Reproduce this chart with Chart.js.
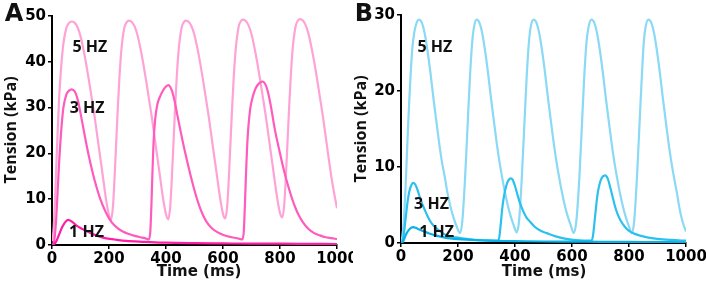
<!DOCTYPE html>
<html><head><meta charset="utf-8">
<script src="https://cdn.jsdelivr.net/npm/chart.js@4/dist/chart.umd.min.js"></script>
<style>
html,body{margin:0;padding:0;background:#fff;width:706px;height:289px;overflow:hidden}
.box{position:absolute;top:0;width:353px;height:289px}
canvas{display:block}
</style></head><body>
<div class="box" style="left:0"><canvas id="cA" width="353" height="289"></canvas></div>
<div class="box" style="left:353px"><canvas id="cB" width="353" height="289"></canvas></div>
<script>
// ---------- Panel A (pink) ----------
const timeA5 = [0,5,10,15,20,25,30,35,40,50,60,70,80,90,100,110,120,130,140,150,160,170,180,190,200,207,
214,219,225,231,237,244,254,262,270,280,290,300,310,320,330,340,350,360,370,380,390,400,408,
415,420,426,432,438,445,455,462,470,480,490,500,510,520,530,540,550,560,570,580,590,600,608,
615,620,626,632,638,645,655,662,670,680,690,700,710,720,730,740,750,760,770,780,790,800,808,
815,820,826,832,838,845,855,862,870,880,890,900,910,920,930,940,950,960,970,980,990,1000];
const tensionA5 = [0.8,3,9,17,25,32,37,41,44,47.3,48.5,48.8,48.5,47.5,45.6,42.8,39.5,35.8,31.8,27.8,23.3,18.8,14.3,9.8,6.5,5.5,
8.5,14,22,30,37,43,47.5,48.6,49.0,48.7,47.7,45.8,43,39.7,36,32,28,23.5,19,14.5,10,6.7,5.6,
8.5,14,22,30,37,43,47.5,48.6,49.0,48.7,47.7,45.8,43,39.7,36,32,28,23.5,19,14.6,10.2,6.8,5.8,
8.7,14,22,30,37,43,47.7,48.8,49.2,48.9,47.9,46,43.2,39.9,36.2,32.2,28.2,23.7,19.2,14.7,10.3,7,6.0,
8.9,14.2,22,30,37,43.2,47.8,48.9,49.3,49,48,46.1,43.3,40,36.3,32.3,28.3,23.8,19.3,15,11.3,8];

const timeA3 = [0,5,10,15,20,25,30,35,40,50,60,69,80,90,100,110,120,130,140,151,168,190,209,230,250,270,290,310,326,340,
345,349,352,356,362,370,379,390,400,408,420,430,440,450,460,472,485,497,508,520,530,543,560,580,601,630,655,668,
673,677,681,686,695,705,715,727,738,750,760,770,782,795,805,817,830,842,853,865,880,900,920,940,960,980,1000];
const tensionA3 = [0,0.3,2,6,12,18,23,27,30,32.8,33.7,34,33.5,31.8,28.8,25.5,22.2,19.2,16.5,13.8,10.3,7,5,3.7,2.9,2.4,2.0,1.7,1.5,1.2,
3,9,15,22,27.5,30.8,32.4,33.8,34.6,34.9,33.8,31.5,28.3,25.2,22.2,18.9,15.5,12.6,10.2,8,6.5,5,3.7,2.8,2.2,1.7,1.4,1.2,
3,9,16,23,29.5,32.5,34.3,35.3,35.7,34.9,32.8,29.6,25.2,21.4,18.6,15.5,12.6,10.2,8.3,6.6,5,3.5,2.6,2.1,1.7,1.5,1.3];

const timeA1 = [0,5,15,25,35,45,57,70,85,100,116,135,155,186,220,260,326,400,500,600,700,800,900,1000];
const tensionA1 = [0,0.1,0.8,2.3,3.8,4.9,5.5,5.1,4.3,3.7,3.2,2.6,2.1,1.5,1.2,0.9,0.7,0.5,0.4,0.35,0.3,0.28,0.25,0.22];

// ---------- Panel B (blue) ----------
const timeB5 = [0,5,10,15,20,25,30,35,40,47,55,63,73,83,93,103,113,119,133,143,154,163,173,183,193,207,
215,225,235,242,250,257,265,275,285,295,305,315,321,335,345,356,365,375,385,395,406,
414,424,434,441,449,456,465,475,485,495,505,515,521,535,545,556,565,575,585,595,606,
615,626,636,643,651,659,668,678,688,698,708,718,724,738,748,759,768,778,788,798,810,
818,828,838,845,852,859,868,878,888,898,908,918,924,938,948,959,968,978,988,1000];
const tensionB5 = [0.2,1,3,6.5,11,15.5,19.5,23,25.7,27.8,29,29.4,29,27.6,25.3,22.5,19.3,17.5,13.4,10.8,8.6,6.6,4.9,3.5,2.4,1.3,
2.8,8.7,16.5,21.9,26.5,28.6,29.4,29,27.6,25.3,22.5,19.3,17.5,13.4,10.8,8.4,6.6,4.9,3.5,2.4,1.4,
2.8,8.7,16.5,21.9,26.5,28.6,29.4,29,27.6,25.3,22.5,19.3,17.5,13.4,10.8,8.4,6.6,4.9,3.5,2.4,1.3,
2.8,8.7,16.5,21.9,26.5,28.6,29.4,29,27.6,25.3,22.5,19.3,17.5,13.4,10.8,8.4,6.6,4.9,3.5,2.4,1.3,
2.8,8.7,16.5,21.9,26.5,28.6,29.4,29,27.6,25.3,22.5,19.3,17.5,13.4,10.8,8.4,6.6,4.4,2.8,1.5];

const timeB3 = [0,5,10,15,20,25,30,36,43,50,58,66,75,84,95,107,119,135,150,170,190,213,250,300,340,
345,350,355,362,370,378,385,392,400,409,418,430,441,453,470,490,511,540,570,605,640,668,
673,678,684,690,697,705,716,725,735,743,751,760,770,786,800,820,856,900,950,1000];
const tensionB3 = [0,0.3,1.2,2.8,4.5,5.9,6.9,7.6,7.9,7.7,7,6,5.1,4.3,3.4,2.6,2.1,1.6,1.2,0.9,0.75,0.6,0.45,0.35,0.3,
0.8,2.5,4.5,6.3,7.6,8.3,8.5,8.3,7.5,6.3,5.2,4.1,3.3,2.8,2.1,1.6,1.3,0.9,0.6,0.4,0.3,0.3,
0.8,2.4,4.6,6.5,7.8,8.6,8.9,8.5,7.2,6,4.8,3.8,3,2.1,1.6,1.2,0.8,0.55,0.4,0.3];

const timeB1 = [0,5,10,15,20,27,35,43,52,62,75,96,120,154,200,250,300,400,500,600,700,800,900,1000];
const tensionB1 = [0,0.1,0.4,0.9,1.3,1.7,2.0,2.1,2.0,1.8,1.6,1.3,1.0,0.7,0.5,0.4,0.3,0.25,0.2,0.18,0.16,0.14,0.12,0.1];

// labels
const seriesLabels = ['5 HZ','3 HZ','1 HZ'];
const xTitle = 'Time (ms)';
const yTitle = 'Tension (kPa)';

// ---------- drawing ----------
const pts = (t, v) => t.map((x, i) => ({x: x, y: v[i]}));

const textPlugin = {
  id: 'txt',
  afterDraw(chart, args, o) {
    const ctx = chart.ctx, xs = chart.scales.x, ys = chart.scales.y;
    ctx.save();
    ctx.fillStyle = '#111';
    ctx.textAlign = 'center';
    ctx.textBaseline = 'middle';
    ctx.font = '700 16px "Open Sans"';
    o.notes.forEach(n => ctx.fillText(n.text, xs.getPixelForValue(n.t), ys.getPixelForValue(n.v)));
    ctx.font = 'bold 15px "DejaVu Sans"';
    ctx.fillText(xTitle, o.xTitlePos[0], o.xTitlePos[1]);
    ctx.save();
    ctx.translate(o.yTitlePos[0], o.yTitlePos[1]);
    ctx.rotate(-Math.PI / 2);
    ctx.font = '700 16px "Open Sans"';
    ctx.fillText(yTitle, 0, 0);
    ctx.restore();
    ctx.font = 'bold 24px "DejaVu Sans"';
    ctx.fillText(o.letter, o.letterPos[0], o.letterPos[1]);
    ctx.restore();
  }
};

function makeChart(id, sets, colors, yMax, geo, txt) {
  const tickFont = {family: 'DejaVu Sans', size: 15, weight: 'bold'};
  return new Chart(document.getElementById(id), {
    type: 'line',
    data: {
      datasets: sets.map((s, i) => ({
        label: seriesLabels[i],
        data: pts(s[0], s[1]),
        borderColor: colors[i],
        borderWidth: 2.2,
        pointRadius: 0,
        fill: false,
        cubicInterpolationMode: 'monotone',
        order: 3 - i
      }))
    },
    options: {
      responsive: false,
      animation: false,
      devicePixelRatio: 1,
      layout: {padding: {left: 0, right: geo.right, top: geo.top, bottom: 0}},
      plugins: {legend: {display: false}, tooltip: {enabled: false}, txt: txt},
      scales: {
        x: {
          type: 'linear', min: 0, max: 1000,
          ticks: {stepSize: 200, font: tickFont, color: '#000', padding: 1, maxRotation: 0,
                  callback: v => String(v)},
          grid: {display: true, drawOnChartArea: false, drawTicks: true, tickLength: 4, color: '#000', lineWidth: 1.5},
          border: {display: true, color: '#000', width: 2},
          afterFit: s => { s.height = geo.xh; s.paddingLeft = 0; s.paddingRight = 0; }
        },
        y: {
          min: 0, max: yMax,
          ticks: {stepSize: 10, font: tickFont, color: '#000', padding: 2, callback: v => String(v)},
          grid: {display: true, drawOnChartArea: false, drawTicks: true, tickLength: 4, color: '#000', lineWidth: 1.5},
          border: {display: true, color: '#000', width: 2},
          afterFit: s => { s.width = geo.yw; s.paddingTop = 0; s.paddingBottom = 0; }
        }
      }
    },
    plugins: [textPlugin]
  });
}

makeChart('cA',
  [[timeA5, tensionA5], [timeA3, tensionA3], [timeA1, tensionA1]],
  ['#ffa3d6', '#ff5bbd', '#ff1fa5'], 50,
  {yw: 52, right: 16, top: 16, xh: 44},
  {notes: [{text: seriesLabels[0], t: 133, v: 43.1}, {text: seriesLabels[1], t: 123, v: 29.8}, {text: seriesLabels[2], t: 121, v: 2.7}],
   xTitlePos: [199, 272], yTitlePos: [11, 130], letter: 'A', letterPos: [14, 15]});

makeChart('cB',
  [[timeB5, tensionB5], [timeB3, tensionB3], [timeB1, tensionB1]],
  ['#8ad9f5', '#2cc0ef', '#08b2e8'], 30,
  {yw: 48, right: 20, top: 15, xh: 46},
  {notes: [{text: seriesLabels[0], t: 119, v: 25.7}, {text: seriesLabels[1], t: 107, v: 5.1}, {text: seriesLabels[2], t: 125, v: 1.45}],
   xTitlePos: [191, 272], yTitlePos: [8, 129], letter: 'B', letterPos: [11, 15]});
</script>
</body></html>
